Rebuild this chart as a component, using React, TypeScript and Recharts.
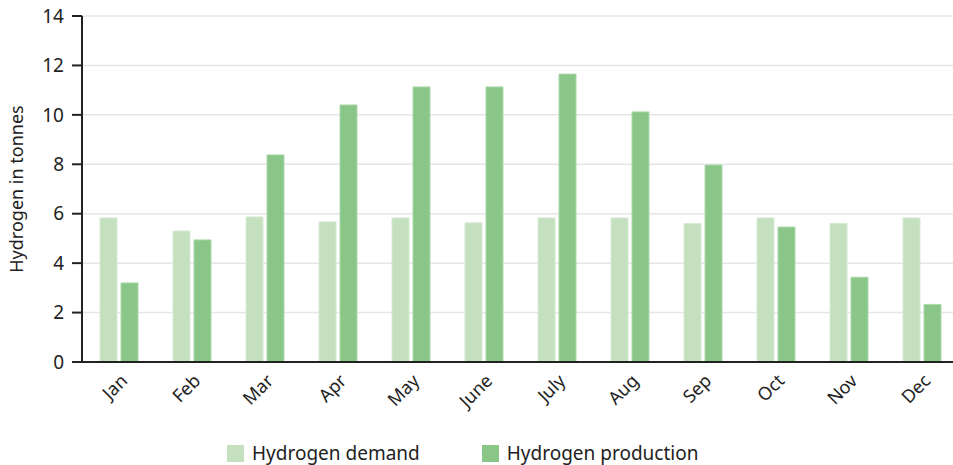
import React from 'react';
import { BarChart, Bar, XAxis, YAxis, CartesianGrid } from 'recharts';

const months = ['Jan', 'Feb', 'Mar', 'Apr', 'May', 'June', 'July', 'Aug', 'Sep', 'Oct', 'Nov', 'Dec'];
const demand = [5.83, 5.3, 5.87, 5.67, 5.83, 5.63, 5.83, 5.83, 5.6, 5.83, 5.61, 5.83];
const production = [3.2, 4.94, 8.38, 10.4, 11.13, 11.13, 11.65, 10.12, 7.97, 5.46, 3.43, 2.33];
const yTicks = [0, 2, 4, 6, 8, 10, 12, 14];

const seriesNames = ['Hydrogen demand', 'Hydrogen production'];
const seriesColors = ['#c4e0bf', '#8bc689'];
const seriesStrokes = ['#d6ead2', '#acd8a9'];

const FONT = '"Noto Sans", sans-serif';

const chartData = months.map((m, i) => ({
  month: m,
  demand: demand[i],
  production: production[i],
}));

// rotated month labels under the axis
const MonthTick = ({ x, y, payload }: any) => (
  <text
    x={x + 10}
    y={y + 12}
    transform={`rotate(-45, ${x + 10}, ${y + 12})`}
    textAnchor="end"
    fill="#222"
    fontSize={18}
    fontFamily={FONT}
  >
    {payload.value}
  </text>
);

const YLabel = () => (
  <text
    x={23}
    y={189}
    transform="rotate(-90, 23, 189)"
    textAnchor="middle"
    fill="#222"
    fontSize={18}
    fontFamily={FONT}
  >
    Hydrogen in tonnes
  </text>
);

export default function App() {
  return (
    <div
      style={{
        position: 'absolute',
        left: 0,
        top: 0,
        width: 953,
        height: 465,
        overflow: 'hidden',
        background: '#fff',
        fontFamily: FONT,
      }}
    >
      <BarChart
        width={958}
        height={420}
        data={chartData}
        margin={{ top: 16, right: 0, bottom: 0, left: 10 }}
        barSize={17}
        barGap={4}
      >
        <CartesianGrid vertical={false} stroke="#e6e6e6" strokeWidth={1.5} />
        <XAxis
          dataKey="month"
          height={58}
          tickLine={false}
          axisLine={{ stroke: '#222', strokeWidth: 2 }}
          tick={<MonthTick />}
          interval={0}
        />
        <YAxis
          width={72}
          domain={[0, 14]}
          ticks={yTicks}
          tickSize={10}
          tickMargin={8}
          tickLine={{ stroke: '#222', strokeWidth: 2 }}
          axisLine={{ stroke: '#222', strokeWidth: 2 }}
          tick={{ fill: '#222', fontSize: 19, fontFamily: FONT }}
        />
        <Bar
          dataKey="demand"
          name={seriesNames[0]}
          fill={seriesColors[0]}
          stroke={seriesStrokes[0]}
          strokeWidth={1}
          isAnimationActive={false}
        />
        <Bar
          dataKey="production"
          name={seriesNames[1]}
          fill={seriesColors[1]}
          stroke={seriesStrokes[1]}
          strokeWidth={1}
          isAnimationActive={false}
        />
        <YLabel />
      </BarChart>

      {/* legend */}
      <div
        style={{
          position: 'absolute',
          top: 444,
          left: 227,
          display: 'flex',
          fontSize: 19,
          lineHeight: '18px',
          color: '#222',
        }}
      >
        {seriesNames.map((name, i) => (
          <div key={name} style={{ display: 'flex', alignItems: 'center', marginRight: i === 0 ? 62 : 0 }}>
            <div style={{ width: 17, height: 17, background: seriesColors[i], marginRight: 8 }} />
            <span>{name}</span>
          </div>
        ))}
      </div>
    </div>
  );
}
